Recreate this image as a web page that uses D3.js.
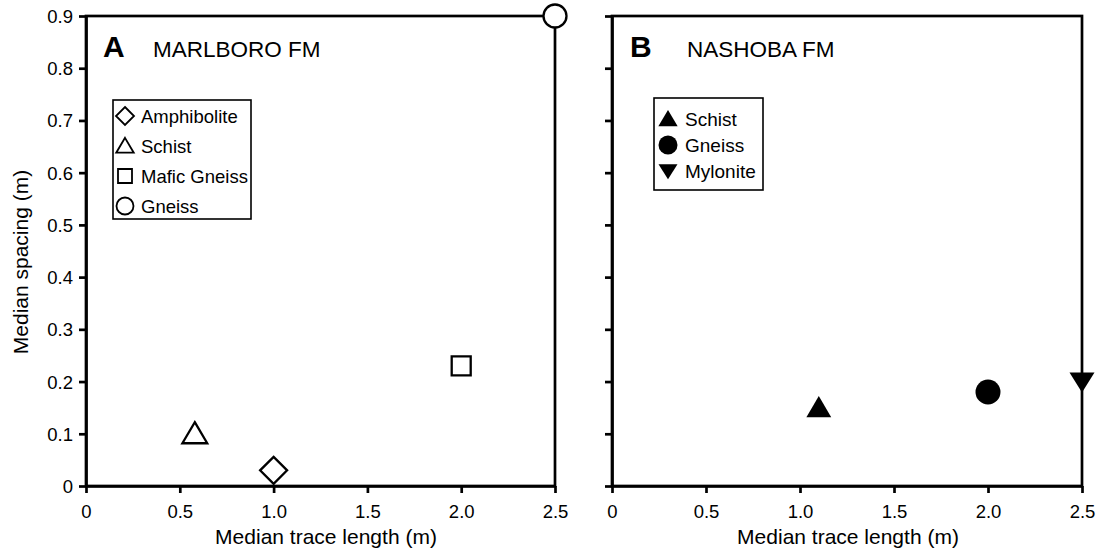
<!DOCTYPE html>
<html>
<head>
<meta charset="utf-8">
<script src="https://cdn.jsdelivr.net/npm/d3@7"></script>
<style>
  html, body { margin: 0; padding: 0; background: #fff; }
  svg { display: block; font-family: "Liberation Sans", Arial, sans-serif; }
</style>
</head>
<body>
<svg id="chart" width="1103" height="557"></svg>
<script>
// Marlboro Formation samples: [trace length, spacing]
const marlboroNames = ["Amphibolite", "Schist", "Mafic Gneiss", "Gneiss"];
const marlboroTrace = [1.0, 0.58, 2.0, 2.5];
const marlboroSpacing = [0.03, 0.10, 0.23, 0.90];
const marlboroSymbols = ["diamond", "triangle", "square", "circle"];

// Nashoba Formation samples
const nashobaNames = ["Schist", "Gneiss", "Mylonite"];
const nashobaTrace = [1.1, 2.0, 2.5];
const nashobaSpacing = [0.15, 0.18, 0.20];
const nashobaSymbols = ["triangle", "circle", "triangleDown"];

const xTicks = [0, 0.5, 1.0, 1.5, 2.0, 2.5];
const xTickLabels = ["0", "0.5", "1.0", "1.5", "2.0", "2.5"];
const yTicks = [0, 0.1, 0.2, 0.3, 0.4, 0.5, 0.6, 0.7, 0.8, 0.9];
const yTickLabels = ["0", "0.1", "0.2", "0.3", "0.4", "0.5", "0.6", "0.7", "0.8", "0.9"];

const FONT = "Liberation Sans, Arial, sans-serif";
const svg = d3.select("#chart");

// symbol path generators sized in pixels
function symbolPath(kind, s) {
  const h = s / 2;
  switch (kind) {
    case "diamond":
      return `M0,${-h}L${h},0L0,${h}L${-h},0Z`;
    case "triangle": {
      const w = s * 0.46, ht = s * 0.78;
      return `M0,${-ht * 0.55}L${w},${ht * 0.45}L${-w},${ht * 0.45}Z`;
    }
    case "triangleDown": {
      const w = s * 0.5, ht = s * 0.8;
      return `M0,${ht * 0.55}L${w},${-ht * 0.45}L${-w},${-ht * 0.45}Z`;
    }
    case "square":
      return `M${-h},${-h}H${h}V${h}H${-h}Z`;
    case "circle":
      return `M${h},0A${h},${h} 0 1,1 ${-h},0A${h},${h} 0 1,1 ${h},0Z`;
  }
}

const openSizes = { diamond: 27, triangle: 27, square: 19, circle: 23 };
const filledSizes = { triangle: 27, circle: 25, triangleDown: 25 };

function drawPanel(opt) {
  const x = d3.scaleLinear().domain([0, 2.5]).range([opt.x0, opt.x1]);
  const y = d3.scaleLinear().domain([0, 0.9]).range([opt.y0, opt.y1]);
  const g = svg.append("g");

  // frame
  g.append("rect")
    .attr("x", opt.x0).attr("y", opt.y1)
    .attr("width", opt.x1 - opt.x0).attr("height", opt.y0 - opt.y1)
    .attr("fill", "none").attr("stroke", "#000").attr("stroke-width", 2.7);

  // x axis
  const xAxis = d3.axisBottom(x).tickValues(xTicks)
    .tickFormat((d, i) => xTickLabels[i]).tickSizeOuter(0).tickSizeInner(7).tickPadding(12);
  const gx = g.append("g").attr("transform", `translate(0,${opt.y0})`).call(xAxis);
  gx.attr("font-size", null).attr("font-family", null);
  gx.select(".domain").attr("stroke-width", 2.7);
  gx.selectAll(".tick line").attr("stroke-width", 2.7);
  gx.selectAll(".tick text").style("font-size", "18.5px").style("font-family", FONT).attr("fill", "#000");

  // y axis
  const yAxis = d3.axisLeft(y).tickValues(yTicks)
    .tickFormat((d, i) => opt.yLabels ? yTickLabels[i] : "").tickSizeOuter(0).tickSizeInner(7).tickPadding(6);
  const gy = g.append("g").attr("transform", `translate(${opt.x0},0)`).call(yAxis);
  gy.attr("font-size", null).attr("font-family", null);
  gy.select(".domain").attr("stroke-width", 2.7);
  gy.selectAll(".tick line").attr("stroke-width", 2.7);
  gy.selectAll(".tick text").style("font-size", "18.5px").style("font-family", FONT).attr("fill", "#000").attr("dy", "0.35em");

  // axis title
  g.append("text")
    .attr("x", opt.titleX).attr("y", 544)
    .attr("text-anchor", "middle").style("font-size", "21px")
    .text("Median trace length (m)");

  // panel letter and formation name
  g.append("text").attr("x", opt.x0 + opt.letterDx).attr("y", 57)
    .style("font-size", "30px").attr("font-weight", "bold").text(opt.letter);
  g.append("text").attr("x", opt.x0 + opt.titleDx).attr("y", 57)
    .style("font-size", "22.5px").text(opt.title);

  // data markers
  opt.trace.forEach((tv, i) => {
    const kind = opt.symbols[i];
    const size = opt.filled ? filledSizes[kind] : openSizes[kind];
    g.append("path")
      .attr("transform", `translate(${x(tv)},${y(opt.spacing[i])})`)
      .attr("d", symbolPath(kind, size))
      .attr("fill", opt.filled ? "#000" : "#fff")
      .attr("stroke", "#000")
      .attr("stroke-width", opt.filled ? 0 : 2.3);
  });

  // legend
  const L = opt.legend;
  const lg = g.append("g");
  lg.append("rect").attr("x", L.x).attr("y", L.y).attr("width", L.w).attr("height", L.h)
    .attr("fill", "#fff").attr("stroke", "#000").attr("stroke-width", 1.6);
  opt.names.forEach((nm, i) => {
    const cy = L.y + L.top + i * L.step;
    const kind = opt.symbols[i];
    lg.append("path")
      .attr("transform", `translate(${L.x + L.symX},${cy})`)
      .attr("d", symbolPath(kind, L.symSize[kind]))
      .attr("fill", opt.filled ? "#000" : "#fff")
      .attr("stroke", "#000")
      .attr("stroke-width", opt.filled ? 0 : 1.8);
    lg.append("text").attr("x", L.x + L.textX).attr("y", cy).attr("dy", "0.36em")
      .style("font-size", L.font + "px").text(nm);
  });
}

drawPanel({
  x0: 86, x1: 555, y0: 486, y1: 16, yLabels: true,
  letter: "A", title: "MARLBORO FM", letterDx: 17, titleDx: 67, titleX: 326,
  names: marlboroNames, trace: marlboroTrace, spacing: marlboroSpacing,
  symbols: marlboroSymbols, filled: false,
  legend: { x: 113, y: 100, w: 138, h: 119, top: 16, step: 30, symX: 12, textX: 28, font: 18.5,
            symSize: { diamond: 18, triangle: 19, square: 14, circle: 17 } }
});

drawPanel({
  x0: 612, x1: 1082, y0: 486, y1: 16, yLabels: false,
  letter: "B", title: "NASHOBA FM", letterDx: 18, titleDx: 75, titleX: 848,
  names: nashobaNames, trace: nashobaTrace, spacing: nashobaSpacing,
  symbols: nashobaSymbols, filled: true,
  legend: { x: 654, y: 98, w: 109, h: 92, top: 21, step: 26, symX: 14, textX: 31, font: 19,
            symSize: { triangle: 21, circle: 19, triangleDown: 19 } }
});

// shared y-axis title
svg.append("text")
  .attr("transform", "translate(28,262) rotate(-90)")
  .attr("text-anchor", "middle").style("font-size", "21px")
  .text("Median spacing (m)");
</script>
</body>
</html>
